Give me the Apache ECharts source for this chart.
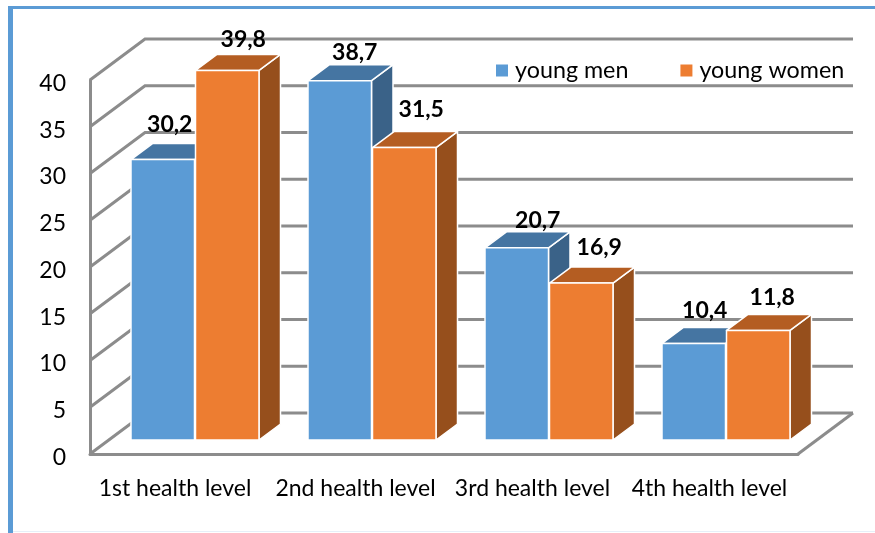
<!DOCTYPE html>
<html>
<head>
<meta charset="utf-8">
<script src="https://cdn.jsdelivr.net/npm/echarts@6/dist/echarts.min.js"></script>
<style>
html, body { margin: 0; padding: 0; background: #fff; }
#chart { width: 875px; height: 533px; }
</style>
</head>
<body>
<div id="chart"></div>
<script>
var categories = ['1st health level', '2nd health level', '3rd health level', '4th health level'];
var youngMen = [30.2, 38.7, 20.7, 10.4];
var youngWomen = [39.8, 31.5, 16.9, 11.8];
var yTicks = [0, 5, 10, 15, 20, 25, 30, 35, 40];

var fontName = 'Lato';
var gridColor = '#8c8c8c';

// fake 3d: wall depth, where the bars stand on the floor, bar depth
var wallDx = 55, wallDy = 41;
var floorDx = 16.5, floorDy = 14;
var barDx = 21.5, barDy = 16;
var barWidth = 64;
var barScale = 0.993;

// label shift from the bar front top centre, set by hand per bar
var menLabelShift = [[7, -35], [15, -28], [21, -27], [11, -33]];
var womenLabelShift = [[16, -31], [17, -38], [18, -36], [14, -33]];

function wallItem(params, api) {
    var cs = params.coordSys;
    var y = api.coord([0, api.value(1)])[1];
    var style = { stroke: gridColor, fill: 'none', lineWidth: 3 };
    var children = [{
        type: 'polyline',
        shape: { points: [[cs.x, y], [cs.x + wallDx, y - wallDy], [cs.x + cs.width + wallDx, y - wallDy]] },
        style: style
    }];
    if (api.value(1) === 0) {
        children.push({
            type: 'line',
            shape: { x1: cs.x + cs.width + wallDx, y1: y - wallDy, x2: cs.x + cs.width, y2: y },
            style: style
        });
    }
    return { type: 'group', children: children };
}

function barItem(colors, side, shifts) {
    return function (params, api) {
        var i = api.value(0);
        var v = api.value(1);
        var center = api.coord([i, 0])[0] + floorDx;
        var zeroY = api.coord([i, 0])[1];
        var base = zeroY - floorDy;
        var top = base - (zeroY - api.coord([i, v])[1]) * barScale;
        var x0 = side < 0 ? center - barWidth : center + 0.5;
        var x1 = x0 + barWidth - 0.5;
        var edge = { stroke: '#fff', lineWidth: 1.5, lineJoin: 'round' };
        var shift = shifts[params.dataIndex];
        return {
            type: 'group',
            children: [{
                type: 'polygon',
                shape: { points: [[x1, top], [x1 + barDx, top - barDy], [x1 + barDx, base - barDy], [x1, base]] },
                style: Object.assign({ fill: colors.side }, edge)
            }, {
                type: 'polygon',
                shape: { points: [[x0, top], [x0 + barDx, top - barDy], [x1 + barDx, top - barDy], [x1, top]] },
                style: Object.assign({ fill: colors.top }, edge)
            }, {
                type: 'polygon',
                shape: { points: [[x0, top], [x1, top], [x1, base], [x0, base]] },
                style: Object.assign({ fill: colors.front }, edge)
            }, {
                type: 'text',
                style: {
                    text: String(v).replace('.', ','),
                    x: (x0 + x1) / 2 + shift[0],
                    y: top + shift[1],
                    align: 'center',
                    verticalAlign: 'middle',
                    font: 'bold 23px ' + fontName,
                    fill: '#000'
                }
            }]
        };
    };
}

function pairs(values) {
    return values.map(function (v, i) { return [i, v]; });
}

var chart = echarts.init(document.getElementById('chart'), null, { renderer: 'canvas' });

chart.setOption({
    animation: false,
    backgroundColor: '#fff',
    textStyle: { fontFamily: fontName },
    graphic: [
        { type: 'rect', shape: { x: 8, y: 6, width: 5, height: 527 }, style: { fill: '#5b9bd5' }, silent: true },
        { type: 'rect', shape: { x: 8, y: 6, width: 867, height: 3 }, style: { fill: '#5b9bd5' }, silent: true },
        { type: 'rect', shape: { x: 13, y: 531, width: 862, height: 1 }, style: { fill: '#e6eff8' }, silent: true }
    ],
    legend: {
        data: ['young men', 'young women'],
        left: 491,
        top: 54,
        icon: 'rect',
        itemWidth: 12,
        itemHeight: 12,
        itemGap: 52,
        textStyle: { fontFamily: fontName, fontSize: 23.3, color: '#000', padding: [0, 0, 0, 2] }
    },
    grid: { left: 90, right: 77, top: 80, bottom: 79 },
    xAxis: {
        type: 'category',
        data: categories,
        axisLine: { lineStyle: { color: gridColor, width: 3 } },
        axisTick: { show: false },
        axisLabel: {
            margin: 23,
            fontSize: 23,
            color: '#000',
            fontFamily: fontName,
            interval: 0,
            formatter: function (value, index) {
                return index === 0 ? '{first|' + value + '}' : value;
            },
            rich: { first: { fontSize: 23, fontFamily: fontName, color: '#000', padding: [0, 7, 0, 0] } }
        }
    },
    yAxis: {
        type: 'value',
        min: 0,
        max: 40,
        interval: 5,
        axisLine: { show: true, lineStyle: { color: gridColor, width: 3 } },
        axisTick: { show: false },
        splitLine: { show: false },
        axisLabel: {
            margin: 24,
            formatter: '{tick|{value}}',
            rich: { tick: { fontSize: 23, fontFamily: fontName, color: '#000', padding: [7, 0, 0, 0] } }
        }
    },
    series: [{
        type: 'custom',
        name: 'walls',
        silent: true,
        clip: false,
        z: 1,
        renderItem: wallItem,
        data: yTicks.map(function (t) { return [0, t]; })
    }, {
        type: 'custom',
        name: 'young men',
        clip: false,
        z: 3,
        itemStyle: { color: '#5b9bd5' },
        renderItem: barItem({ front: '#5b9bd5', top: '#4575a2', side: '#3a6288' }, -1, menLabelShift),
        data: pairs(youngMen)
    }, {
        type: 'custom',
        name: 'young women',
        clip: false,
        z: 4,
        itemStyle: { color: '#ed7d31' },
        renderItem: barItem({ front: '#ed7d31', top: '#b45d22', side: '#964f1c' }, 1, womenLabelShift),
        data: pairs(youngWomen)
    }]
});
</script>
</body>
</html>
